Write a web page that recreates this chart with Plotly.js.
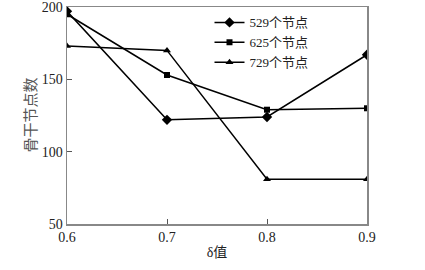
<!DOCTYPE html>
<html><head><meta charset="utf-8">
<script src="https://cdn.plot.ly/plotly-3.0.1.min.js"></script>
<style>html,body{margin:0;padding:0;background:#fff}#chart{width:425px;height:270px}</style>
</head><body><div id="chart"></div>
<script>
const deltaValues = [0.6, 0.7, 0.8, 0.9];
const nodes529 = [197, 122, 124, 167];
const nodes625 = [195, 153, 129, 130];
const nodes729 = [173, 170, 81, 81];
const seriesNames = ["529个节点", "625个节点", "729个节点"];
const xTickVals = [0.6, 0.7, 0.8, 0.9];
const yTickVals = [50, 100, 150, 200];
const yTitle = '骨干节点数';
const xTitle = 'δ值';

const serif = '"Liberation Serif", "Noto Sans CJK SC", serif';
const mk = (y, name, sym, size) => ({
  x: deltaValues, y: y, name: name, type: 'scatter', mode: 'lines+markers',
  line: {color: '#000', width: 1.5},
  marker: {symbol: sym, size: size, color: '#000'}
});
const data = [
  mk(nodes529, seriesNames[0], 'diamond', 8),
  mk(nodes625, seriesNames[1], 'square', 6),
  mk(nodes729, seriesNames[2], 'triangle-up', 7)
];
const axisCommon = {
  showline: true, linecolor: '#888', linewidth: 1.5, mirror: true,
  ticks: 'inside', ticklen: 5, tickcolor: '#555', showgrid: false, zeroline: false,
  tickfont: {family: serif, size: 14, color: '#222'}
};
const layout = {
  width: 425, height: 270,
  margin: {l: 67, r: 58, t: 7, b: 46},
  paper_bgcolor: '#fff', plot_bgcolor: '#fff',
  showlegend: true,
  legend: {x: 0.475, y: 0.998, xanchor: 'left', yanchor: 'top', bgcolor: 'rgba(0,0,0,0)',
    font: {family: serif, size: 13, color: '#222'}, itemwidth: 30, tracegroupgap: 0},
  xaxis: Object.assign({}, axisCommon, {range: [0.6, 0.9], tickvals: xTickVals, ticktext: xTickVals.map(v => v.toFixed(1)),
    title: {text: xTitle, font: {family: serif, size: 14, color: '#222'}, standoff: 3}}),
  yaxis: Object.assign({}, axisCommon, {range: [49.99, 200.01], tickvals: yTickVals,
    ticklabeloverflow: 'allow'}),
  annotations: [{
    text: yTitle, xref: 'paper', yref: 'paper', x: 0, y: 0.5, xanchor: 'center', yanchor: 'middle',
    xshift: -37, textangle: -90, showarrow: false,
    font: {family: serif, size: 15, color: '#555'}
  }]
};
Plotly.newPlot('chart', data, layout, {displayModeBar: false, staticPlot: true});
</script></body></html>
